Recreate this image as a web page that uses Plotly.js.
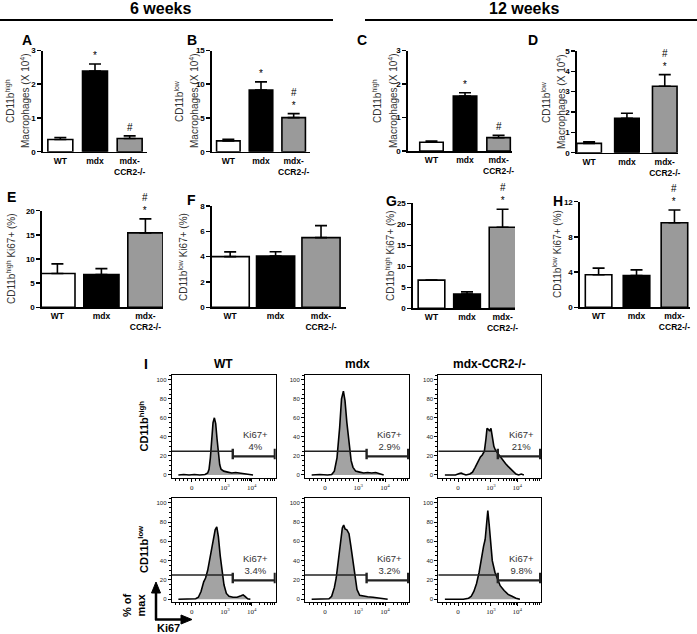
<!DOCTYPE html>
<html><head><meta charset="utf-8">
<script src="https://cdn.plot.ly/plotly-3.0.1.min.js"></script>
<style>html,body{margin:0;padding:0;background:#fff}#chart{width:697px;height:634px}</style>
</head><body><div id="chart"></div>
<script>
// ---------------- DATA ----------------
const categories = ['WT','mdx','mdx-CCR2-/-'];
const tickLabels = ['WT','mdx','mdx-<br>CCR2-/-'];
const barColors = ['#ffffff','#000000','#9a9a9a'];

const A_mean=[0.36,2.39,0.39], A_sem=[0.06,0.21,0.08], A_sig=['','*','#'];
const B_mean=[1.6,9.15,5.05],  B_sem=[0.25,1.2,0.6],   B_sig=['','*','#<br>*'];
const C_mean=[0.26,1.64,0.40], C_sem=[0.04,0.10,0.07], C_sig=['','*','#'];
const D_mean=[0.46,1.69,3.27], D_sem=[0.08,0.25,0.57], D_sig=['','','#<br>*'];
const E_mean=[7.0,6.8,15.4],   E_sem=[2.0,1.2,2.9],    E_sig=['','','#<br>*'];
const F_mean=[4.0,4.05,5.5],   F_sem=[0.38,0.34,0.95], F_sig=['','',''];
const G_mean=[6.7,3.4,19.3],   G_sem=[0,0.5,4.3],      G_sig=['','','#<br>*'];
const H_mean=[3.7,3.6,9.6],    H_sem=[0.75,0.65,1.45], H_sig=['','','#<br>*'];

const macTitleHigh=['CD11b<sup>high</sup>','Macrophages (X 10<sup>4</sup>)'];
const macTitleLow=['CD11b<sup>low</sup>','Macrophages (X 10<sup>4</sup>)'];
const kiTitleHigh=['CD11b<sup>high</sup> Ki67+ (%)'];
const kiTitleLow=['CD11b<sup>low</sup> Ki67+ (%)'];

// flow cytometry histograms (x in display units: 0 -> "0", 1.25 -> 10^3, 2.25 -> 10^4)
const histTickVals=[0,1.25,2.25];
const histTickText=['0','10<sup>3</sup>','10<sup>4</sup>'];
const groups=['WT','mdx','mdx-CCR2-/-'];
const rowLabels=['CD11b<sup>high</sup>','CD11b<sup>low</sup>'];

const WThigh_t=[-0.5,-0.3,-0.1,0.1,0.3,0.5,0.6,0.65,0.7,0.75,0.8,0.85,0.9,0.95,1.0,1.05,1.1,1.2,1.35,1.5,1.65,1.8,1.95,2.1,2.3];
const WThigh_y=[0,0.5,0,0.5,0,0.5,2,6,18,38,55,60,54,38,22,11,6,4,3,2,2.5,2,1,0.5,0];
const MDXhigh_t=[-0.5,-0.2,0.1,0.25,0.35,0.45,0.55,0.62,0.69,0.75,0.82,0.9,0.98,1.05,1.15,1.3,1.45,1.6,1.75,1.9,2.05,2.2];
const MDXhigh_y=[0,0.5,0,0.5,4,18,50,80,88,78,55,32,15,8,4,3,2,2.5,2,2.5,1,0];
const CCRhigh_t=[-0.5,-0.1,0.05,0.12,0.2,0.3,0.45,0.55,0.65,0.75,0.85,0.92,1.0,1.06,1.1,1.15,1.2,1.25,1.3,1.36,1.42,1.5,1.6,1.7,1.8,1.9,2.0,2.1,2.2,2.3,2.4,2.5];
const CCRhigh_y=[0,0,1.5,2,1,0,1,3,8,14,19,21,25,38,49,48,46,49,42,30,26,23,19,15,12,9,6,3,1,0,1,0];
const WTlow_t=[-0.5,0.0,0.15,0.25,0.35,0.45,0.52,0.6,0.7,0.8,0.88,0.94,1.0,1.07,1.14,1.21,1.3,1.4,1.55,1.7,1.85,1.93,2.0,2.1,2.2];
const WTlow_y=[0,0,0.5,2,8,18,22,30,45,62,72,75,65,45,28,15,6,3,2,2,3.5,4.5,3,0.5,0];
const MDXlow_t=[-0.5,0.0,0.15,0.25,0.35,0.42,0.5,0.58,0.65,0.7,0.75,0.82,0.9,0.97,1.05,1.12,1.2,1.3,1.45,1.6,1.8,2.0,2.2,2.35];
const MDXlow_y=[0,0,0.5,3,12,22,42,62,74,77,73,72,68,55,38,22,10,4,3,2.5,2,1.5,0.5,0];
const CCRlow_t=[-0.5,0.2,0.4,0.5,0.6,0.7,0.8,0.9,0.97,1.03,1.08,1.13,1.18,1.24,1.3,1.4,1.5,1.6,1.75,1.9,2.05,2.2,2.35];
const CCRlow_y=[0,0,1,3,8,16,28,45,55,62,80,92,78,55,40,28,20,14,9,5,3,1,0];

const gateStart=[1.54,1.56,1.51,1.54,1.56,1.51];
const gateEnd=3.12;
const gateLevel=19.5, negGateLevel=25, capLow=16.5, capHigh=27.5;
const ki67Pct=['4%','2.9%','21%','3.4%','3.2%','9.8%'];

// ---------------- LAYOUT HELPERS ----------------
const W=697,H=634;
const fx=(a,b)=>[a/W,b/W];
const fy=(top,bot)=>[1-bot/H,1-top/H];
const PX=v=>v/W, PY=v=>1-v/H;
const FONT='"Liberation Sans", Arial, Helvetica, sans-serif';

const barPanels=[
 {L:'A',mean:A_mean,sem:A_sem,sig:A_sig,title:macTitleHigh,x:[43,147],y:[50.5,151.7],xr:[-0.5,2.5],ymax:3,dtick:1,bw:0.72,tx:[10,25],ty:101,lpos:[27,40]},
 {L:'B',mean:B_mean,sem:B_sem,sig:B_sig,title:macTitleLow,x:[212,310],y:[50.5,151.7],xr:[-0.5,2.5],ymax:15,dtick:5,bw:0.72,tx:[179,194],ty:101,lpos:[192,40]},
 {L:'C',mean:C_mean,sem:C_sem,sig:C_sig,title:macTitleHigh,x:[408,512],y:[50.5,151],xr:[-0.7,2.4],ymax:3,dtick:1,bw:0.7,tx:[377,393],ty:101,lpos:[362,40]},
 {L:'D',mean:D_mean,sem:D_sem,sig:D_sig,title:macTitleLow,x:[577,678],y:[51,152.7],xr:[-0.32,2.35],ymax:5,dtick:1,bw:0.65,tx:[546,561],ty:102,lpos:[533,40]},
 {L:'E',mean:E_mean,sem:E_sem,sig:E_sig,title:kiTitleHigh,x:[42,163],y:[210.7,307.3],xr:[-0.35,2.4],ymax:20,dtick:5,bw:0.8,tx:[11],ty:259,lpos:[11,197]},
 {L:'F',mean:F_mean,sem:F_sem,sig:F_sig,title:kiTitleLow,x:[212,346],y:[206,307.3],xr:[-0.4,2.55],ymax:8,dtick:2,bw:0.84,tx:[183],ty:257,lpos:[191,200]},
 {L:'G',mean:G_mean,sem:G_sem,sig:G_sig,title:kiTitleHigh,x:[413,515],y:[203.3,308.3],xr:[-0.52,2.35],ymax:25,dtick:5,bw:0.75,tx:[390],ty:256,lpos:[391,201]},
 {L:'H',mean:H_mean,sem:H_sem,sig:H_sig,title:kiTitleLow,x:[580,690],y:[201.7,307.3],xr:[-0.49,2.41],ymax:12,dtick:4,bw:0.7,tx:[557],ty:254,lpos:[558,201]}
];

const histData=[[WThigh_t,WThigh_y],[MDXhigh_t,MDXhigh_y],[CCRhigh_t,CCRhigh_y],[WTlow_t,WTlow_y],[MDXlow_t,MDXlow_y],[CCRlow_t,CCRlow_y]];
const histCols=[[171.7,275.7],[305,409],[438.3,541]];
const histRows=[{top:375,bot:478,yr:[-3.2,105]},{top:498,bot:602,yr:[-2.9,105]}];
const histXRange=[-0.75,3.15];

const traces=[];
const layout={width:W,height:H,margin:{l:0,r:0,t:0,b:0},showlegend:false,
  paper_bgcolor:'#ffffff',plot_bgcolor:'rgba(0,0,0,0)',
  font:{family:FONT,color:'#000'},annotations:[],shapes:[]};

function paperText(x,y,text,size,opts){
  layout.annotations.push(Object.assign({xref:'paper',yref:'paper',x:PX(x),y:PY(y),xanchor:'center',yanchor:'middle',
    text:text,showarrow:false,font:{family:FONT,size:size,color:'#000'}},opts||{}));
}

barPanels.forEach((p,i)=>{
  const n=i+1, sfx=n===1?'':String(n);
  const xr='x'+sfx, yr='y'+sfx;
  traces.push({type:'bar',x:categories,y:p.mean,xaxis:xr,yaxis:yr,width:p.bw,
    marker:{color:barColors,line:{color:'#000',width:1.6}},
    error_y:{type:'data',symmetric:false,array:p.sem,arrayminus:[0,0,0],color:'#000',thickness:1.6,width:6},
    hoverinfo:'skip'});
  layout['xaxis'+sfx]={domain:fx(p.x[0],p.x[1]),anchor:yr,type:'category',range:p.xr,
    tickvals:categories,ticktext:tickLabels,showline:true,linecolor:'#000',linewidth:1.6,ticks:'',
    tickfont:{family:FONT,size:8.5,weight:'bold',color:'#000'},showgrid:false,zeroline:false,fixedrange:true};
  layout['yaxis'+sfx]={domain:fy(p.y[0],p.y[1]),anchor:xr,range:[0,p.ymax],tick0:0,dtick:p.dtick,
    showline:true,linecolor:'#000',linewidth:1.6,ticks:'outside',ticklen:4,tickwidth:1.5,tickcolor:'#000',
    tickfont:{family:FONT,size:8,weight:'bold',color:'#000'},showgrid:false,zeroline:false,fixedrange:true};
  p.sig.forEach((s,j)=>{ if(!s) return;
    layout.annotations.push({xref:xr,yref:yr,x:categories[j],y:p.mean[j]+p.sem[j],xanchor:'center',yanchor:'bottom',
      text:s,showarrow:false,yshift:1,font:{family:FONT,size:10,color:'#000'}});
  });
  p.title.forEach((t,k)=>paperText(p.tx[k],p.ty,t,10,{textangle:-90,font:{family:FONT,size:10,color:'#333'}}));
  paperText(p.lpos[0],p.lpos[1],'<b>'+p.L+'</b>',14);
});

// minor ticks for flow axes
const minorX=[-0.6,-0.45,-0.3,-0.15,0.15,0.3,0.45,0.6,0.75,0.9,1.05];
[1.25,2.25].forEach(d=>{for(let k=2;k<=9;k++){const v=d+Math.log10(k); if(v<3.15) minorX.push(v);}});

histData.forEach((hd,i)=>{
  const n=9+i, col=i%3, row=Math.floor(i/3);
  const xr='x'+n, yr='y'+n, R=histRows[row], C=histCols[col];
  traces.push({type:'scatter',mode:'lines',x:hd[0],y:hd[1],xaxis:xr,yaxis:yr,fill:'tozeroy',
    fillcolor:'#a3a3a3',line:{color:'#000',width:1.6},hoverinfo:'skip'});
  const g=gateStart[i];
  traces.push({type:'scatter',mode:'lines',x:[histXRange[0],g],y:[negGateLevel,negGateLevel],xaxis:xr,yaxis:yr,
    line:{color:'#222',width:1.5},hoverinfo:'skip'});
  traces.push({type:'scatter',mode:'lines',x:[g,g,null,g,gateEnd,null,gateEnd,gateEnd],
    y:[capLow,capHigh,null,gateLevel,gateLevel,null,capLow,capHigh],xaxis:xr,yaxis:yr,
    line:{color:'#222',width:2.4},hoverinfo:'skip'});
  layout['xaxis'+n]={domain:fx(C[0],C[1]),anchor:yr,range:histXRange,showline:true,mirror:true,
    linecolor:'#000',linewidth:1,ticks:'outside',ticklen:3,tickcolor:'#000',tickvals:histTickVals,ticktext:histTickText,
    tickfont:{family:'"Liberation Serif", "Times New Roman", serif',size:7,color:'#222'},
    minor:{ticks:'outside',ticklen:2,tickcolor:'#000',tickvals:minorX},
    showgrid:false,zeroline:false,fixedrange:true};
  layout['yaxis'+n]={domain:fy(R.top,R.bot),anchor:xr,range:R.yr,showline:true,mirror:true,
    linecolor:'#000',linewidth:1,ticks:'outside',ticklen:3,tickcolor:'#000',tickvals:[0,20,40,60,80,100],
    tickfont:{family:FONT,size:6,color:'#222'},minor:{ticks:'outside',ticklen:2,tickcolor:'#000',dtick:5},
    showgrid:false,zeroline:false,fixedrange:true};
  layout.annotations.push({xref:xr,yref:yr,x:2.4,y:36,text:'Ki67+<br>'+ki67Pct[i],showarrow:false,
    xanchor:'center',yanchor:'middle',font:{family:FONT,size:9.5,color:'#333'}});
});

// headers
paperText(160,8,'<b>6 weeks</b>',16);
paperText(524,8,'<b>12 weeks</b>',16);
layout.shapes.push({type:'line',xref:'paper',yref:'paper',x0:PX(0),x1:PX(333),y0:PY(20),y1:PY(20),line:{color:'#000',width:2.2}});
layout.shapes.push({type:'line',xref:'paper',yref:'paper',x0:PX(365),x1:PX(697),y0:PY(20),y1:PY(20),line:{color:'#000',width:2.2}});

// panel I labels
paperText(146,364,'<b>I</b>',14);
groups.forEach((g,j)=>{ const C=histCols[j]; paperText((C[0]+C[1])/2,364,'<b>'+g+'</b>',12); });
rowLabels.forEach((r,k)=>{ const R=histRows[k]; paperText(143,(R.top+R.bot)/2,'<b>'+r+'</b>',11,{textangle:-90}); });

// axis legend arrows
layout.shapes.push({type:'line',xref:'paper',yref:'paper',x0:PX(156),x1:PX(156),y0:PY(620),y1:PY(591),line:{color:'#000',width:2.5}});
layout.shapes.push({type:'path',xref:'paper',yref:'paper',path:`M ${PX(156)} ${PY(582)} L ${PX(151.5)} ${PY(593)} L ${PX(160.5)} ${PY(593)} Z`,fillcolor:'#000',line:{color:'#000',width:1}});
layout.shapes.push({type:'line',xref:'paper',yref:'paper',x0:PX(155),x1:PX(183),y0:PY(619.5),y1:PY(619.5),line:{color:'#000',width:2.5}});
layout.shapes.push({type:'path',xref:'paper',yref:'paper',path:`M ${PX(192)} ${PY(619.5)} L ${PX(181)} ${PY(615)} L ${PX(181)} ${PY(624)} Z`,fillcolor:'#000',line:{color:'#000',width:1}});
paperText(134,605,'<b>% of<br>max</b>',11,{textangle:-90});
paperText(168,628,'<b>Ki67</b>',11);

Plotly.newPlot('chart',traces,layout,{staticPlot:true,displayModeBar:false});
</script></body></html>
